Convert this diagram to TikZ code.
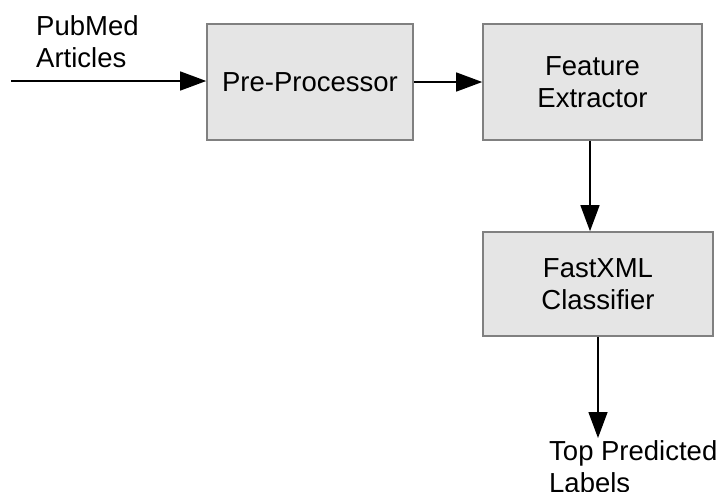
\documentclass[tikz,border=0pt]{standalone}
\usepackage{fontspec}
\setmainfont{Liberation Sans}
\usetikzlibrary{arrows.meta}

\tikzset{
  stagebox/.style={draw=black!50, line width=1.6pt, fill=black!10,
    minimum width=#1, inner sep=0pt, align=center,
    font=\fontsize{27.5}{32}\selectfont},
  freetext/.style={inner sep=0pt, align=left,
    font=\fontsize{27.5}{32}\selectfont},
  flow/.style={line width=1.4pt, draw=black,
    -{Triangle[length=26pt, width=19pt]}}
}

\begin{document}
\begin{tikzpicture}[x=1pt, y=-1pt]
  \useasboundingbox (0,0) rectangle (726,491);

  % processing stages
  \node[stagebox=206pt, minimum height=116pt] (pre)  at (310,82)    {Pre-Processor};
  \node[stagebox=219pt, minimum height=116pt] (feat) at (592.5,82)  {Feature\\Extractor};
  \node[stagebox=230pt, minimum height=104pt] (fast) at (598,284)   {FastXML\\Classifier};

  % input and output labels
  \node[freetext, anchor=north west] (inlabel)  at (36,15)  {PubMed\\Articles};
  \node[freetext, anchor=north west] (outlabel) at (549,440) {Top Predicted\\Labels};

  % free ends of the input and output connectors
  \coordinate (src) at (11,81);
  \coordinate (dst) at (598,438);

  % data flow
  \draw[flow] (src) -- (src -| pre.west);
  \draw[flow] (pre.east) -- (feat.west);
  \draw[flow] ([xshift=-2.5pt]feat.south) -- ([xshift=-2.5pt]feat.south |- fast.north);
  \draw[flow] (fast.south) -- (dst);
\end{tikzpicture}
\end{document}
